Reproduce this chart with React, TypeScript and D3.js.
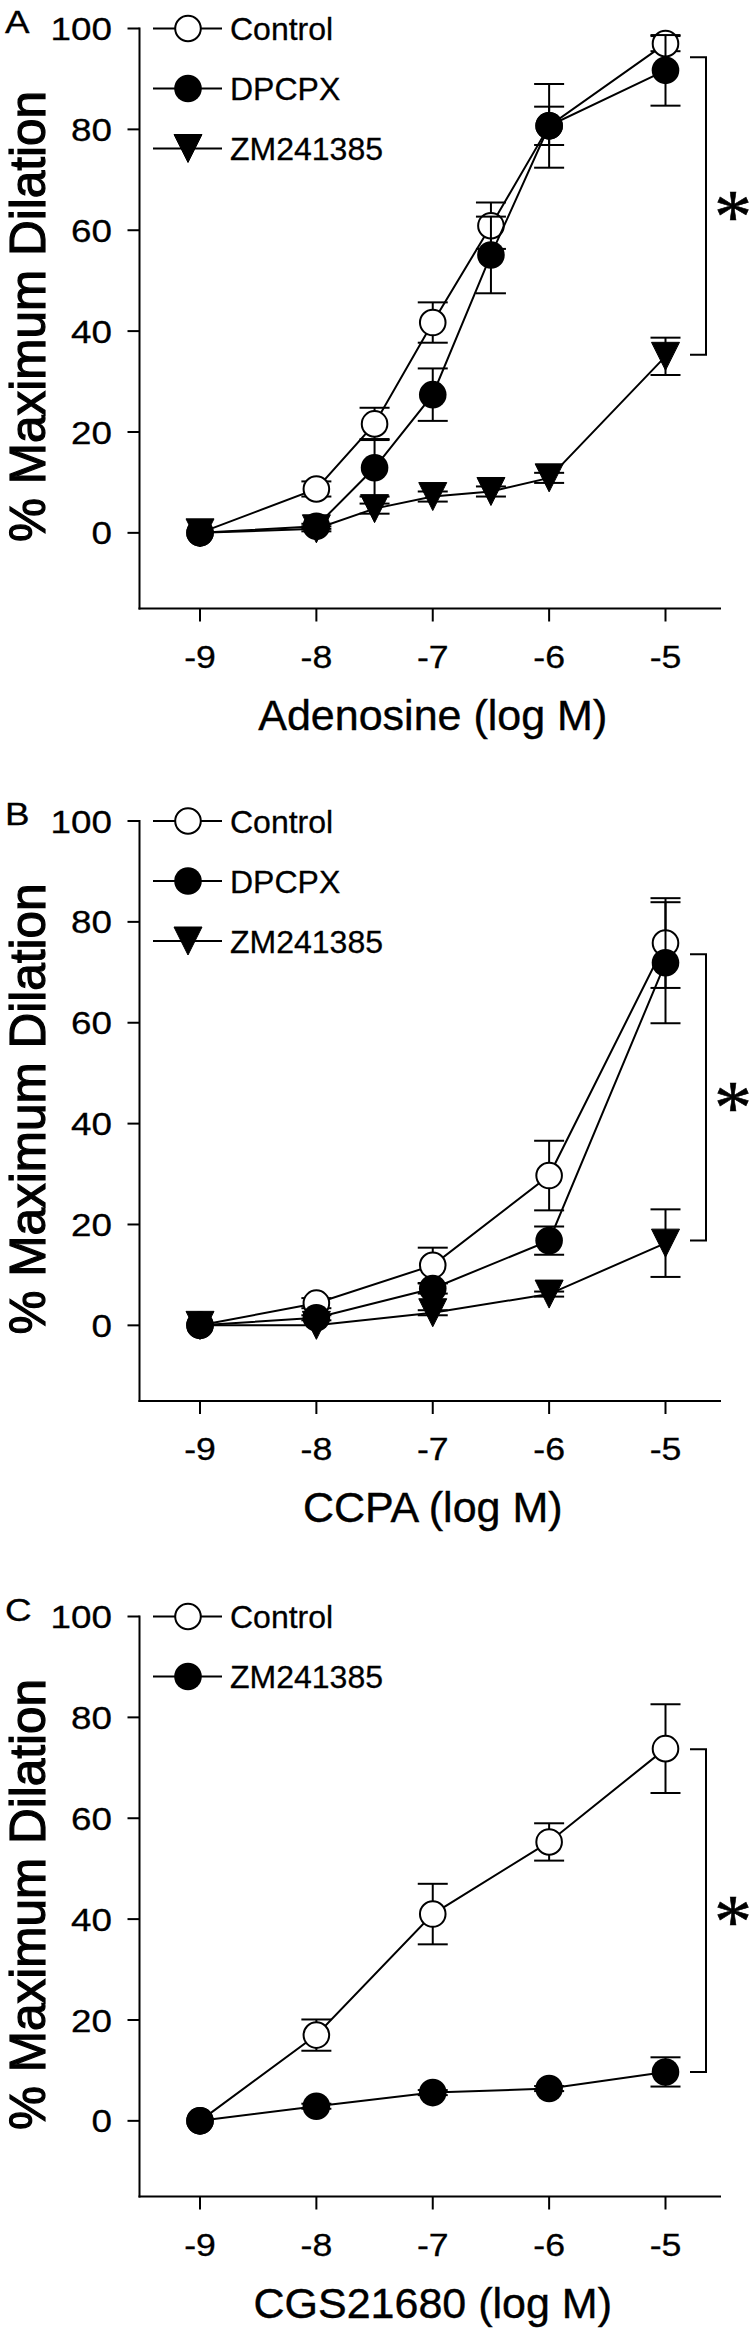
import React from "react";
import * as d3 from "d3";

// ---------- data ----------
const xTicks = [-9, -8, -7, -6, -5];
const yTicks = [0, 20, 40, 60, 80, 100];

// Panel A: Adenosine
const xA = [-9, -8, -7.5, -7, -6.5, -6, -5];
const aControl = [0, 8.7, 21.6, 41.7, 60.9, 80.7, 97.0];
const aControlErr = [0, 1.5, 3.2, 4.0, 4.6, 3.8, 1.5];
const aDPCPX = [0, 1.3, 12.9, 27.4, 55.1, 80.7, 91.7];
const aDPCPXErr = [0, 0.5, 5.7, 5.2, 7.6, 8.3, 7.0];
const aZM = [0, 0.8, 4.8, 7.2, 8.2, 10.9, 35.0];
const aZMErr = [0, 0.5, 1, 1, 1, 1, 3.7];
const bracketA = [35.3, 94.3];

// Panel B: CCPA
const xB = [-9, -8, -7, -6, -5];
const bControl = [0, 4.4, 11.9, 29.7, 75.8];
const bControlErr = [0, 1, 3.5, 6.9, 8.9];
const bDPCPX = [0, 1.5, 7.3, 16.8, 71.9];
const bDPCPXErr = [0, 0.5, 1, 2.8, 12];
const bZM = [0, 0, 2.5, 6.2, 16.3];
const bZMErr = [0, 0, 0.5, 0.5, 6.7];
const bracketB = [16.8, 73.6];

// Panel C: CGS21680
const xC = [-9, -8, -7, -6, -5];
const cControl = [0, 17.0, 41.0, 55.3, 73.8];
const cControlErr = [0, 3.1, 6.0, 3.7, 8.8];
const cZM = [0, 2.9, 5.6, 6.4, 9.7];
const cZMErr = [0, 0.5, 0.5, 0.5, 2.9];
const bracketC = [9.7, 73.7];

type Series = { name: string; marker: "open" | "filled" | "tri"; x: number[]; y: number[]; err: number[] };
type Panel = { letter: string; title: string; series: Series[]; bracket: number[] };

const panels: Panel[] = [
  {
    letter: "A",
    title: "Adenosine (log M)",
    bracket: bracketA,
    series: [
      { name: "Control", marker: "open", x: xA, y: aControl, err: aControlErr },
      { name: "DPCPX", marker: "filled", x: xA, y: aDPCPX, err: aDPCPXErr },
      { name: "ZM241385", marker: "tri", x: xA, y: aZM, err: aZMErr },
    ],
  },
  {
    letter: "B",
    title: "CCPA (log M)",
    bracket: bracketB,
    series: [
      { name: "Control", marker: "open", x: xB, y: bControl, err: bControlErr },
      { name: "DPCPX", marker: "filled", x: xB, y: bDPCPX, err: bDPCPXErr },
      { name: "ZM241385", marker: "tri", x: xB, y: bZM, err: bZMErr },
    ],
  },
  {
    letter: "C",
    title: "CGS21680 (log M)",
    bracket: bracketC,
    series: [
      { name: "Control", marker: "open", x: xC, y: cControl, err: cControlErr },
      { name: "ZM241385", marker: "filled", x: xC, y: cZM, err: cZMErr },
    ],
  },
];

// ---------- layout ----------
const W = 755;
const H = 2328;
const panelTops = [28.5, 821, 1616.5];
const FONT = "'Liberation Sans', Arial, Helvetica, sans-serif";
const SW = 2;
const R = 13.8;
const TRI = 14;
const SX = 1.15; // horizontal stretch of the small labels

function Marker({ kind, cx, cy }: { kind: string; cx: number; cy: number }) {
  if (kind === "tri") {
    const p = `M${cx - TRI},${cy - TRI}L${cx + TRI},${cy - TRI}L${cx},${cy + TRI}Z`;
    return <path d={p} fill="#000" stroke="#000" strokeWidth={1} strokeLinejoin="miter" />;
  }
  return (
    <circle
      cx={cx}
      cy={cy}
      r={kind === "open" ? R - 1 : R}
      fill={kind === "open" ? "#fff" : "#000"}
      stroke="#000"
      strokeWidth={kind === "open" ? SW : 0}
    />
  );
}

function SText({
  x,
  y,
  anchor,
  size,
  dy,
  children,
}: {
  x: number;
  y: number;
  anchor: "start" | "middle" | "end";
  size: number;
  dy?: string;
  children: React.ReactNode;
}) {
  return (
    <text
      transform={`translate(${x},${y}) scale(${SX},1)`}
      dy={dy}
      textAnchor={anchor}
      fontFamily={FONT}
      fontSize={size}
      stroke="#000"
      strokeWidth={0.3}
    >
      {children}
    </text>
  );
}

function PanelView({ panel, top }: { panel: Panel; top: number }) {
  const y = d3.scaleLinear().domain([-15, 100]).range([top + 580, top]);
  const x = d3.scaleLinear().domain([-9, -5]).range([200, 665.5]);
  const axisX = 139.5;
  const axisRight = 721;
  const axisY = y(-15);
  const line = d3
    .line<[number, number]>()
    .x((d) => x(d[0]))
    .y((d) => y(d[1]));
  const legendRows = [0, 60, 120];
  const bx = 706;
  const [b0, b1] = panel.bracket;
  const midY = (y(b0) + y(b1)) / 2;
  return (
    <g>
      {/* panel letter */}
      <SText x={5} y={top + 4} anchor="start" size={32}>
        {panel.letter}
      </SText>
      {/* y axis */}
      <line x1={axisX} x2={axisX} y1={top - 1} y2={axisY + 1} stroke="#000" strokeWidth={SW} />
      {yTicks.map((t) => (
        <g key={t}>
          <line x1={axisX - 12} x2={axisX} y1={y(t)} y2={y(t)} stroke="#000" strokeWidth={SW} />
          <SText x={112} y={y(t)} dy="0.36em" anchor="end" size={32}>
            {t}
          </SText>
        </g>
      ))}
      {/* x axis */}
      <line x1={axisX - 1} x2={axisRight} y1={axisY} y2={axisY} stroke="#000" strokeWidth={SW} />
      {xTicks.map((t) => (
        <g key={t}>
          <line x1={x(t)} x2={x(t)} y1={axisY} y2={axisY + 13} stroke="#000" strokeWidth={SW} />
          <SText x={x(t)} y={axisY + 59} anchor="middle" size={31}>
            {t}
          </SText>
        </g>
      ))}
      {/* axis titles */}
      <text
        x={(x(-9) + x(-5)) / 2}
        y={axisY + 121}
        textAnchor="middle"
        fontFamily={FONT}
        fontSize={43}
        stroke="#000"
        strokeWidth={0.4}
      >
        {panel.title}
      </text>
      <text
        transform={`translate(45,${top + 288}) rotate(-90)`}
        textAnchor="middle"
        fontFamily={FONT}
        fontSize={49.5}
        stroke="#000"
        strokeWidth={1.2}
      >
        % Maximum Dilation
      </text>
      {/* series */}
      {panel.series.map((s) => {
        const pts = s.x.map((v, i) => [v, s.y[i]] as [number, number]);
        return (
          <g key={s.name}>
            <path d={line(pts) || ""} fill="none" stroke="#000" strokeWidth={SW} />
            {pts.map((p, i) =>
              s.err[i] > 0 ? (
                <g key={i}>
                  <line
                    x1={x(p[0])}
                    x2={x(p[0])}
                    y1={y(p[1] - s.err[i])}
                    y2={y(p[1] + s.err[i])}
                    stroke="#000"
                    strokeWidth={SW}
                  />
                  <line x1={x(p[0]) - 15} x2={x(p[0]) + 15} y1={y(p[1] + s.err[i])} y2={y(p[1] + s.err[i])} stroke="#000" strokeWidth={SW} />
                  <line x1={x(p[0]) - 15} x2={x(p[0]) + 15} y1={y(p[1] - s.err[i])} y2={y(p[1] - s.err[i])} stroke="#000" strokeWidth={SW} />
                </g>
              ) : null
            )}
            {pts.map((p, i) => (
              <Marker key={"m" + i} kind={s.marker} cx={x(p[0])} cy={y(p[1])} />
            ))}
          </g>
        );
      })}
      {/* legend */}
      {panel.series.map((s, i) => {
        const ly = top + legendRows[i];
        return (
          <g key={"lg" + s.name}>
            <line x1={153} x2={222} y1={ly} y2={ly} stroke="#000" strokeWidth={SW} />
            <Marker kind={s.marker} cx={188} cy={ly} />
            <text x={230} y={ly} dy="0.36em" fontFamily={FONT} fontSize={32} stroke="#000" strokeWidth={0.3}>
              {s.name}
            </text>
          </g>
        );
      })}
      {/* significance bracket */}
      <path
        d={`M${bx - 16},${y(b1)}H${bx}V${y(b0)}H${bx - 16}`}
        fill="none"
        stroke="#000"
        strokeWidth={SW}
      />
      <text
        x={733}
        y={midY + 36}
        textAnchor="middle"
        fontFamily="'Liberation Serif', 'Times New Roman', serif"
        fontSize={76}
        stroke="#000"
        strokeWidth={0.6}
      >
        *
      </text>
    </g>
  );
}

export default function App() {
  return (
    <div style={{ position: "absolute", left: 0, top: 0 }}>
      <svg width={W} height={H} viewBox={`0 0 ${W} ${H}`} style={{ display: "block", background: "#fff" }}>
        <rect width={W} height={H} fill="#fff" />
        {panels.map((p, i) => (
          <PanelView key={p.letter} panel={p} top={panelTops[i]} />
        ))}
      </svg>
    </div>
  );
}
